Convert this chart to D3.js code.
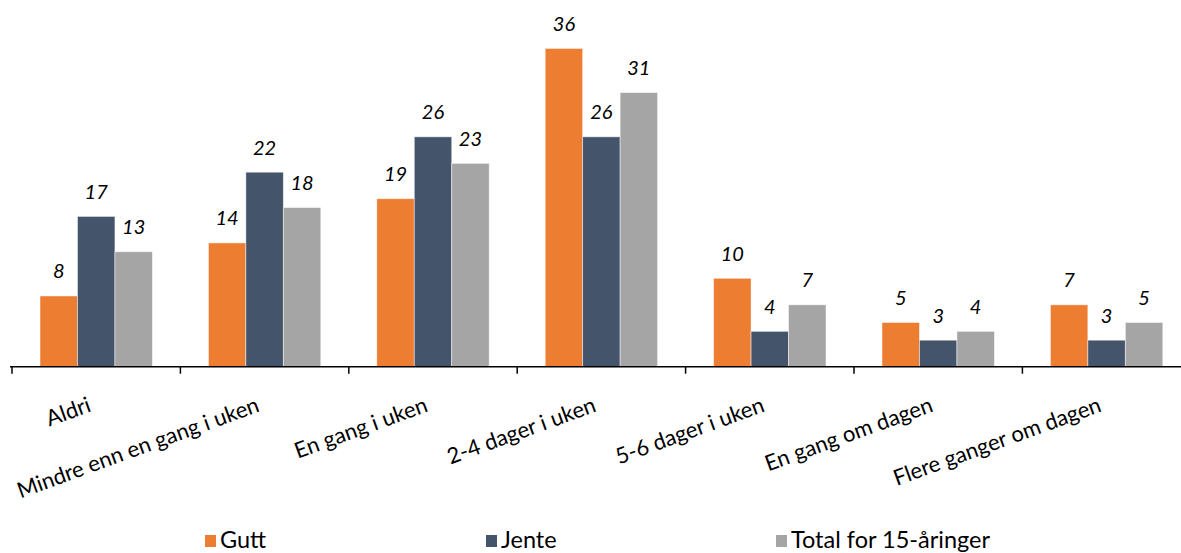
<!DOCTYPE html>
<html>
<head>
<meta charset="utf-8">
<script src="https://cdn.jsdelivr.net/npm/d3@7"></script>
<style>
  html, body { margin: 0; padding: 0; background: #fff; }
  svg { display: block; font-family: Lato, "Open Sans", sans-serif; }
</style>
</head>
<body>
<svg id="chart" width="1181" height="553"></svg>
<script>
// Hvor ofte: kategorier og andel (%) per gruppe
const categories = [
  "Aldri",
  "Mindre enn en gang i uken",
  "En gang i uken",
  "2-4 dager i uken",
  "5-6 dager i uken",
  "En gang om dagen",
  "Flere ganger om dagen"
];
const seriesNames = ["Gutt", "Jente", "Total for 15-åringer"];
const gutt  = [8, 14, 19, 36, 10, 5, 7];
const jente = [17, 22, 26, 26, 4, 3, 3];
const total = [13, 18, 23, 31, 7, 4, 5];
const seriesValues = [gutt, jente, total];
const colors = ["#ED7D31", "#44546A", "#A5A5A5"];

const svg = d3.select("#chart");

const baseY = 366.7;
const x = d3.scaleBand().domain(categories).range([12, 12 + 7 * 168.4]).padding(0);
const inner = d3.scaleBand().domain(seriesNames).range([28, 168.4 - 28]).padding(0);
const y = d3.scaleLinear().domain([0, 36]).range([baseY, 48.4]);

const rows = categories.map((c, i) => ({
  cat: c,
  vals: seriesNames.map((s, k) => ({ series: s, k, value: seriesValues[k][i] }))
}));

const groups = svg.append("g").selectAll("g")
  .data(rows).join("g")
  .attr("transform", d => `translate(${x(d.cat)},0)`);

groups.selectAll("rect")
  .data(d => d.vals).join("rect")
  .attr("x", d => inner(d.series))
  .attr("y", d => y(d.value))
  .attr("width", inner.bandwidth())
  .attr("height", d => baseY - y(d.value))
  .attr("fill", d => colors[d.k])
  .attr("stroke", "#ffffff")
  .attr("stroke-opacity", 0.6)
  .attr("stroke-width", 0.8);

groups.selectAll("text.val")
  .data(d => d.vals).join("text")
  .attr("class", "val")
  .attr("x", d => inner(d.series) + inner.bandwidth() / 2)
  .attr("y", d => y(d.value) - 17.5)
  .attr("text-anchor", "middle")
  .attr("font-size", 20)
  .attr("font-style", "italic")
  .attr("fill", "#000")
  .text(d => d.value);

// Kategoriakse
const axis = svg.append("g");
axis.append("line")
  .attr("x1", 10).attr("x2", 1181)
  .attr("y1", baseY).attr("y2", baseY)
  .attr("stroke", "#000").attr("stroke-width", 1.5);
axis.selectAll("line.tick")
  .data(categories).join("line")
  .attr("class", "tick")
  .attr("x1", d => x(d)).attr("x2", d => x(d))
  .attr("y1", baseY).attr("y2", baseY + 7)
  .attr("stroke", "#000").attr("stroke-width", 1.5);
axis.selectAll("text")
  .data(categories).join("text")
  .attr("transform", d => `translate(${x(d) + x.bandwidth() / 2 - 4},411) rotate(-20)`)
  .attr("text-anchor", "end")
  .attr("font-size", 22)
  .attr("fill", "#000")
  .text(d => d);

// Tegnforklaring
const legendX = [205, 486, 776];
const legend = svg.append("g").selectAll("g")
  .data(seriesNames).join("g")
  .attr("transform", (d, i) => `translate(${legendX[i]},535)`);
legend.append("rect")
  .attr("width", 11).attr("height", 12)
  .attr("fill", (d, i) => colors[i]);
legend.append("text")
  .attr("x", 15).attr("y", 13)
  .attr("font-size", 23.5)
  .attr("fill", "#000")
  .text(d => d);
</script>
</body>
</html>
